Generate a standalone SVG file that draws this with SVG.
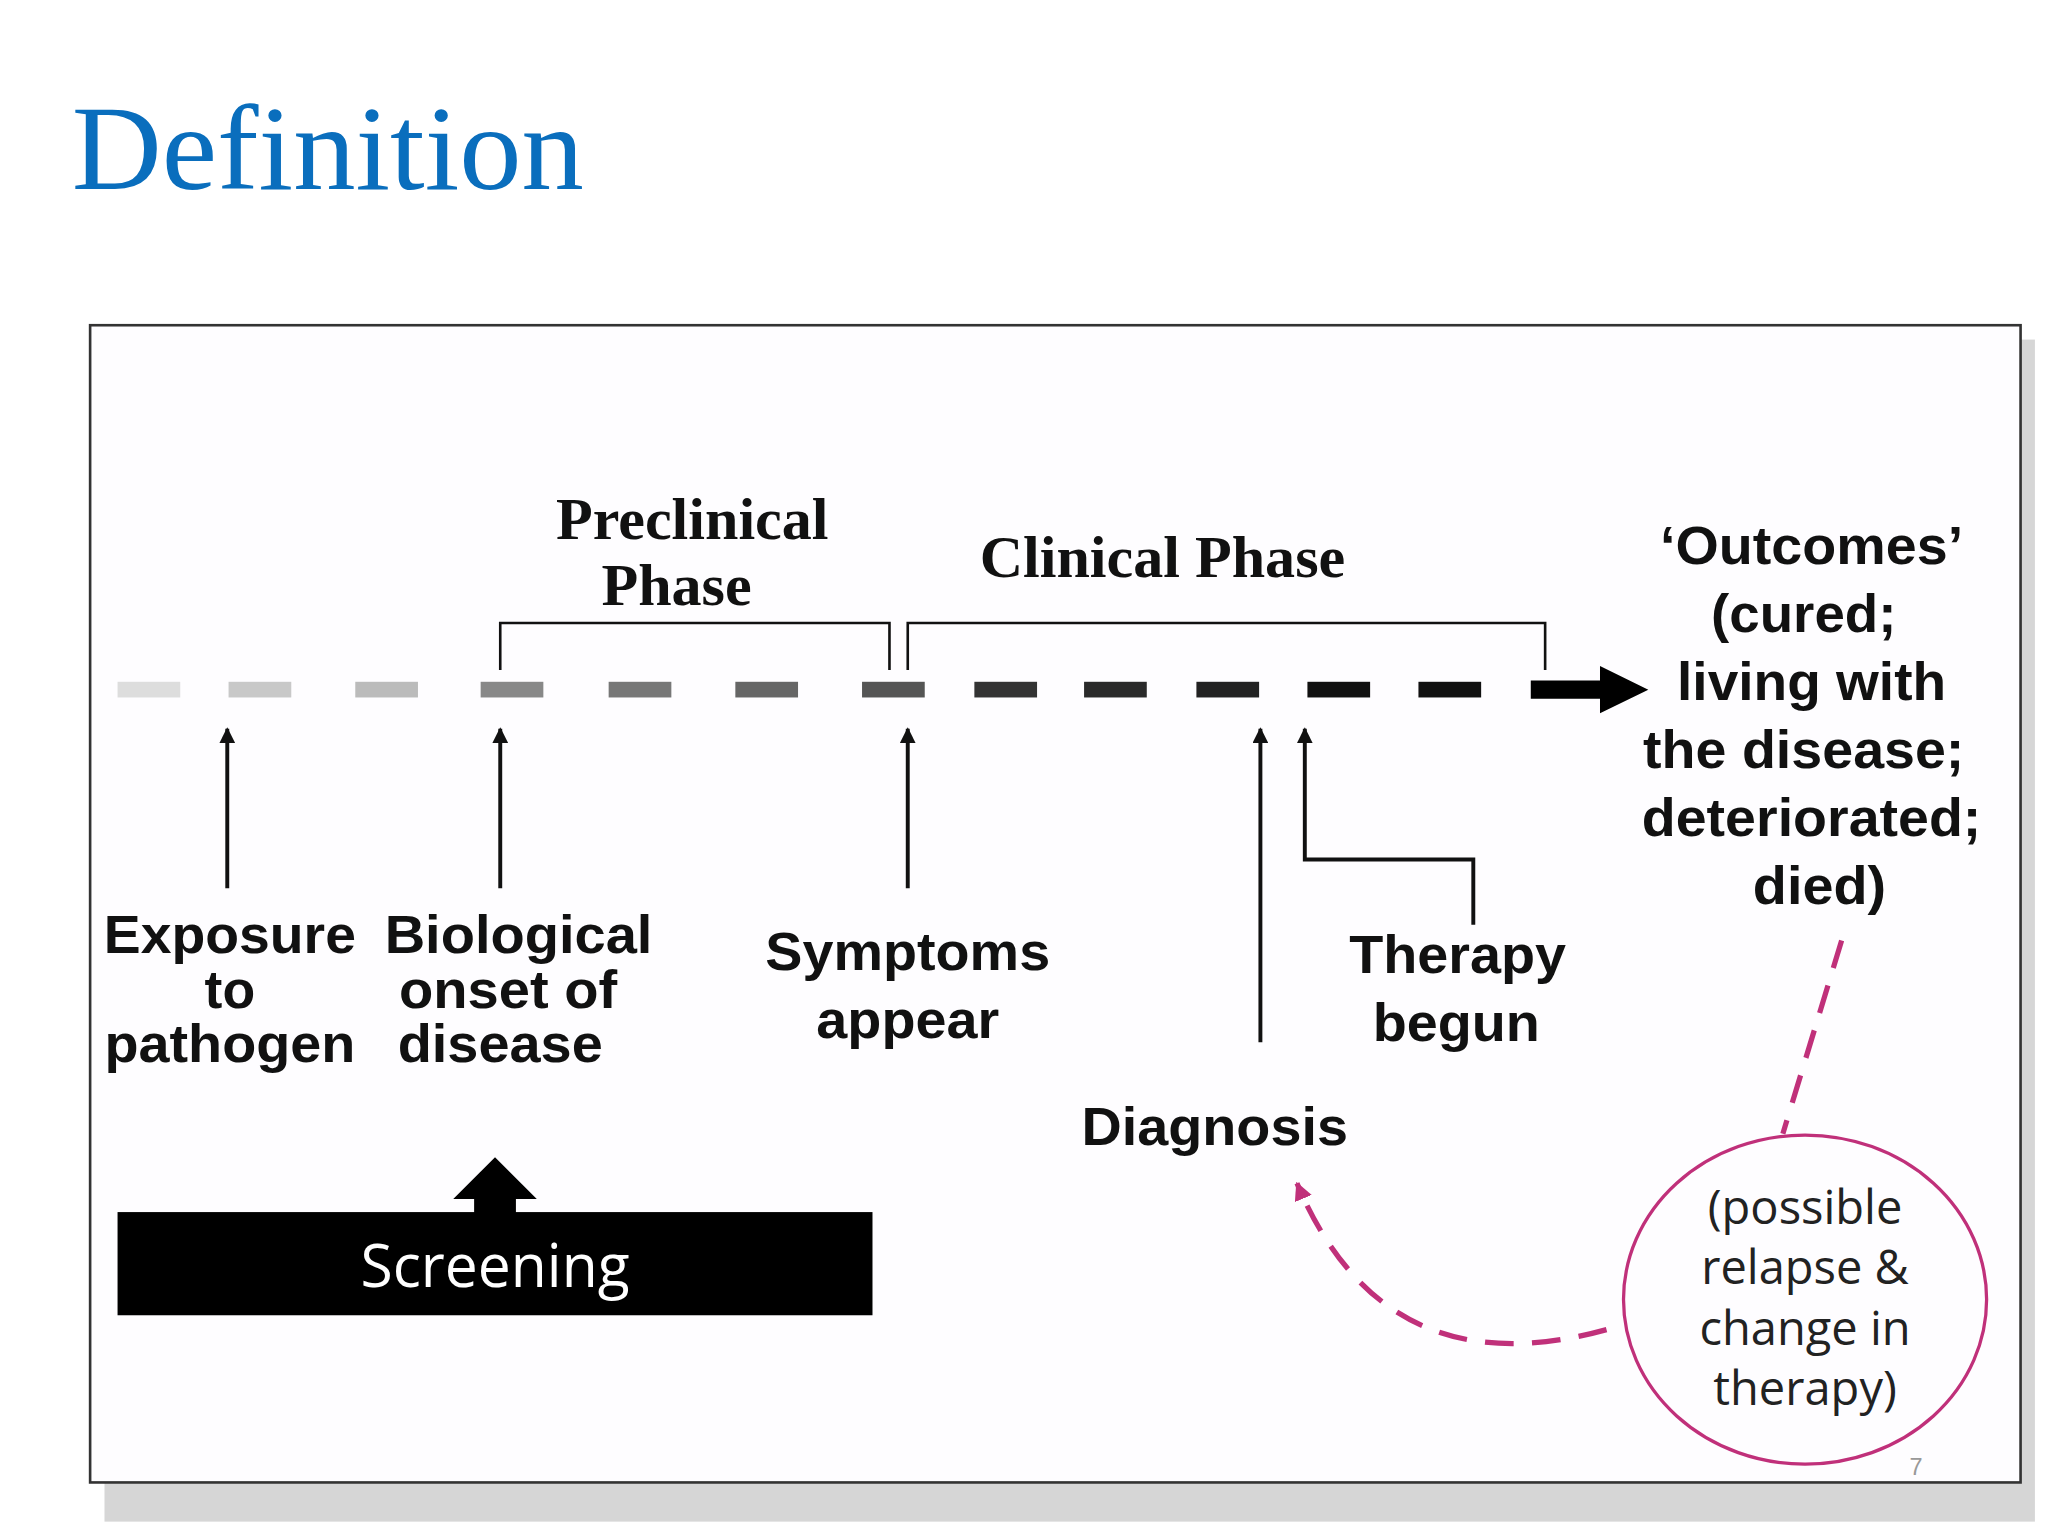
<svg xmlns="http://www.w3.org/2000/svg" width="2048" height="1536" viewBox="0 0 2048 1536">
<defs>
<style>
.b{font-family:"Liberation Sans",Arial,sans-serif;font-weight:bold;font-size:41px;fill:#111;text-anchor:middle}
.s{font-family:"Liberation Serif",serif;font-weight:bold;font-size:46px;fill:#111;text-anchor:middle}
.c{font-family:"Open Sans","Noto Sans",sans-serif;font-size:36px;fill:#222;text-anchor:middle}
.ln{stroke:#111;stroke-width:3;fill:none}
.mg{stroke:#c0307a;stroke-width:4;fill:none;stroke-dasharray:22 14}
</style>
<marker id="ah" viewBox="0 0 10 10" refX="9" refY="5" markerWidth="5" markerHeight="4" orient="auto"><path d="M0,0L10,5L0,10z" fill="#111"/></marker>
<marker id="am" viewBox="0 0 10 10" refX="9" refY="5" markerWidth="3.5" markerHeight="3.5" orient="auto"><path d="M0,0L10,5L0,10z" fill="#c0307a"/></marker>
</defs>
<rect width="2048" height="1536" fill="#fff"/>
<g transform="scale(1.30612)">
<text x="55" y="145" font-family="Liberation Serif,serif" font-size="92" fill="#0a6ebd" textLength="392" lengthAdjust="spacingAndGlyphs">Definition</text>
<rect x="80" y="260" width="1478" height="905" fill="#bbb" opacity="0.6"/>
<rect x="69" y="249" width="1478" height="886" fill="#fefdff" stroke="#333" stroke-width="2"/>
<g id="timeline">
<rect x="90" y="522" width="48" height="12" fill="#ddd"/>
<rect x="175" y="522" width="48" height="12" fill="#c8c8c8"/>
<rect x="272" y="522" width="48" height="12" fill="#bbb"/>
<rect x="368" y="522" width="48" height="12" fill="#888"/>
<rect x="466" y="522" width="48" height="12" fill="#777"/>
<rect x="563" y="522" width="48" height="12" fill="#666"/>
<rect x="660" y="522" width="48" height="12" fill="#555"/>
<rect x="746" y="522" width="48" height="12" fill="#333"/>
<rect x="830" y="522" width="48" height="12" fill="#2a2a2a"/>
<rect x="916" y="522" width="48" height="12" fill="#222"/>
<rect x="1001" y="522" width="48" height="12" fill="#111"/>
<rect x="1086" y="522" width="48" height="12" fill="#111"/>
<polygon points="1172,521 1225,521 1225,510 1262,528 1225,546 1225,535 1172,535" fill="#000"/>
</g>
<g id="connectors">
<path class="ln" style="stroke-width:2" d="M383,513V477H681V513M695,513V477H1183V513"/>
<line class="ln" x1="174" y1="680" x2="174" y2="558" marker-end="url(#ah)"/>
<line class="ln" x1="383" y1="680" x2="383" y2="558" marker-end="url(#ah)"/>
<line class="ln" x1="695" y1="680" x2="695" y2="558" marker-end="url(#ah)"/>
<line class="ln" x1="965" y1="798" x2="965" y2="558" marker-end="url(#ah)"/>
<path class="ln" d="M1128,708V658H999V558" marker-end="url(#ah)"/>
<line class="mg" x1="1410" y1="720" x2="1365" y2="868"/>
<path class="mg" d="M1230,1018Q1060,1065 993,906" marker-end="url(#am)"/>
</g>
<g id="labels">
<text class="s" x="530" y="413">Preclinical</text>
<text class="s" x="518" y="463">Phase</text>
<text class="s" x="890" y="442">Clinical Phase</text>
<g id="outcomes">
<text class="b" x="1387" y="432" textLength="232" lengthAdjust="spacingAndGlyphs">‘Outcomes’</text>
<text class="b" x="1381" y="484" textLength="142" lengthAdjust="spacingAndGlyphs">(cured;</text>
<text class="b" x="1387" y="536" textLength="206" lengthAdjust="spacingAndGlyphs">living with</text>
<text class="b" x="1381" y="588" textLength="246" lengthAdjust="spacingAndGlyphs">the disease;</text>
<text class="b" x="1387" y="640" textLength="260" lengthAdjust="spacingAndGlyphs">deteriorated;</text>
<text class="b" x="1393" y="692" textLength="102" lengthAdjust="spacingAndGlyphs">died)</text>
</g>
<g id="exposure">
<text class="b" x="176" y="730" textLength="193" lengthAdjust="spacingAndGlyphs">Exposure</text>
<text class="b" x="176" y="772">to</text>
<text class="b" x="176" y="813" textLength="192" lengthAdjust="spacingAndGlyphs">pathogen</text>
</g>
<g id="onset">
<text class="b" x="397" y="730" textLength="205" lengthAdjust="spacingAndGlyphs">Biological</text>
<text class="b" x="389" y="772" textLength="167" lengthAdjust="spacingAndGlyphs">onset of</text>
<text class="b" x="383" y="813" textLength="157" lengthAdjust="spacingAndGlyphs">disease</text>
</g>
<g id="symptoms">
<text class="b" x="695" y="743" textLength="218" lengthAdjust="spacingAndGlyphs">Symptoms</text>
<text class="b" x="695" y="795" textLength="140" lengthAdjust="spacingAndGlyphs">appear</text>
</g>
<g id="therapy">
<text class="b" x="1116" y="745" textLength="166" lengthAdjust="spacingAndGlyphs">Therapy</text>
<text class="b" x="1115" y="797" textLength="128" lengthAdjust="spacingAndGlyphs">begun</text>
</g>
<text id="diagnosis" class="b" x="930" y="877" textLength="204" lengthAdjust="spacingAndGlyphs">Diagnosis</text>
</g>
<g id="screening">
<polygon points="347,918 379,886 411,918 395,918 395,930 363,930 363,918" fill="#000"/>
<rect x="90" y="928" width="578" height="79" fill="#000"/>
<text x="379" y="985" font-family="Open Sans,Noto Sans,sans-serif" font-size="46" fill="#fff" text-anchor="middle" textLength="206" lengthAdjust="spacingAndGlyphs">Screening</text>
</g>
<g id="relapse">
<ellipse cx="1382" cy="995" rx="139" ry="126" fill="none" stroke="#c0307a" stroke-width="2.5"/>
<text class="c" x="1382" y="937">(possible</text>
<text class="c" x="1382" y="983">relapse &amp;</text>
<text class="c" x="1382" y="1030">change in</text>
<text class="c" x="1382" y="1076">therapy)</text>
</g>
<text x="1467" y="1129" font-family="Liberation Sans,sans-serif" font-size="18" fill="#999" text-anchor="middle">7</text>
</g>
</svg>
